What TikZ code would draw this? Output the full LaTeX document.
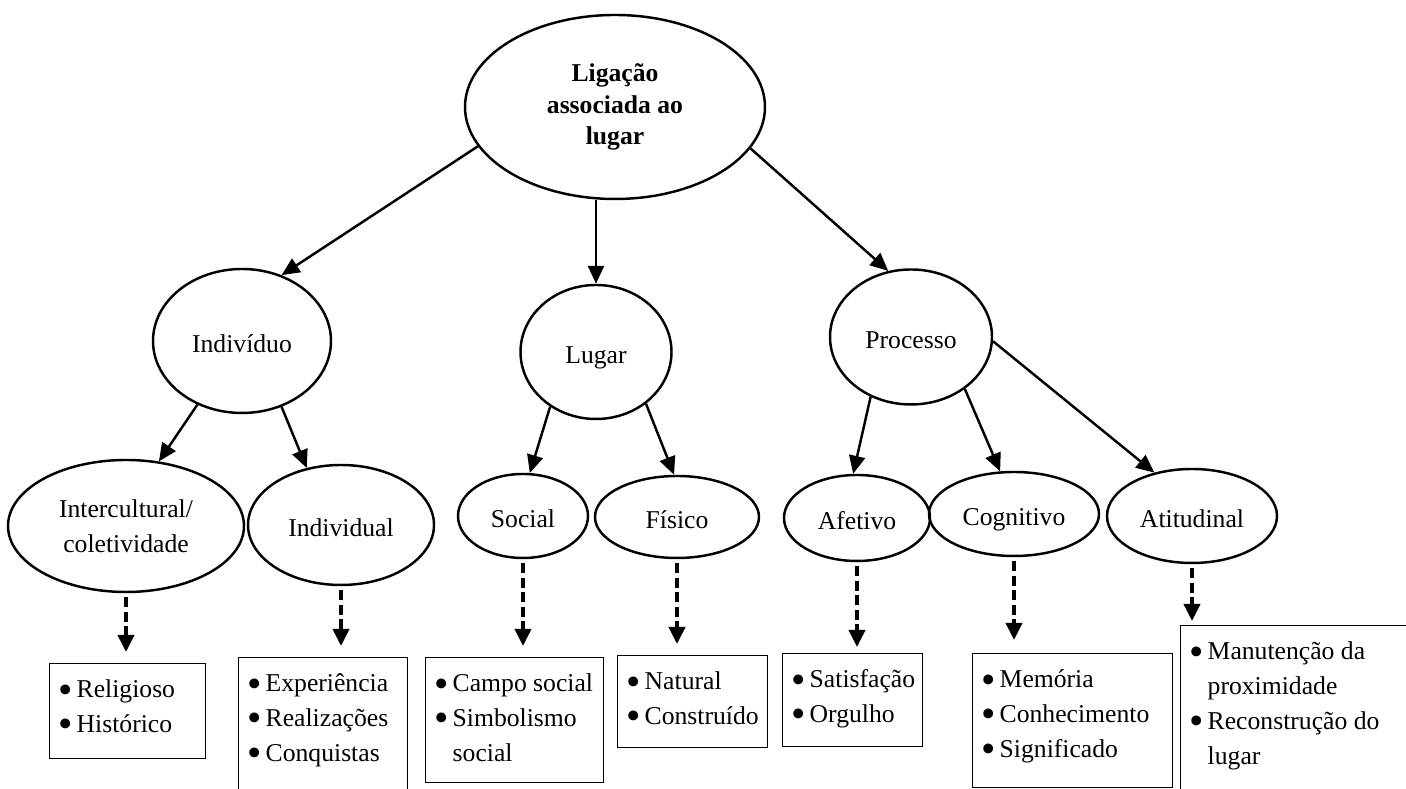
\documentclass[tikz,border=0pt]{standalone}
\usepackage{fontspec}
\setmainfont{Liberation Serif}
\usepackage{graphicx}
\usepackage{tikz}
\usetikzlibrary{arrows.meta,shapes.geometric}
\tikzset{
  every picture/.style={draw=black, text=black},
  oval/.style={ellipse, draw, line width=0.7pt, inner sep=0pt, align=center},
  oneline/.style={text height=0.66em, text depth=0.02em},
  listbox/.style={rectangle, draw, line width=0.4pt, anchor=north west,
    inner xsep=0.09cm, inner ysep=0pt, text height=0.34cm, align=left},
  arr/.style={-{Triangle[length=0.18cm,width=0.16cm]}, line width=0.7pt},
  dasharr/.style={-{Triangle[length=0.17cm,width=0.16cm]}, line width=1.05pt,
    dash pattern=on 0.1cm off 0.045cm, shorten <=0.04cm, shorten >=0.11cm},
}
\newcommand{\nsp}{\spaceskip=0pt\xspaceskip=0pt\relax}
\newcommand{\bul}{\makebox[0.18cm][l]{\raisebox{-0.055cm}[0pt][0pt]{\scalebox{1.6}{\textbullet}}}}
\newcommand{\bitem}[1]{\mbox{\nsp\bul#1}}
\newcommand{\bcont}[1]{\mbox{\nsp\hspace*{0.18cm}#1}}

\begin{document}
\begin{tikzpicture}[every node/.style={font=\fontsize{7.3}{9.9}\selectfont}]
\useasboundingbox (0,0) rectangle (14.06,7.89);

%% Root
\node[oval, minimum width=3.0cm, minimum height=1.84cm,
  font=\fontsize{7.3}{8.9}\selectfont\bfseries] (lig) at (6.15,6.82)
  {Ligação\\\mbox{\nsp associada ao}\\lugar};

%% Level 1
\node[oval, oneline, minimum width=1.78cm, minimum height=1.44cm] (indiv) at (2.42,4.48) {Indivíduo};
\node[oval, oneline, minimum width=1.51cm, minimum height=1.34cm] (lugar) at (5.96,4.37) {Lugar};
\node[oval, oneline, minimum width=1.62cm, minimum height=1.35cm] (proc) at (9.11,4.52) {Processo};

\draw[arr] (lig.196) -- (indiv.59);
\draw[arr] (lig.south -| lugar.north) -- (lugar.north);
\draw[arr] (lig.343) -- (proc.109);

%% Level 2
\node[oval, minimum width=2.36cm, minimum height=1.32cm] (inter) at (1.26,2.63) {Intercultural/\\coletividade};
\node[oval, oneline, minimum width=1.86cm, minimum height=1.20cm] (individ) at (3.41,2.64) {Individual};
\node[oval, oneline, minimum width=1.30cm, minimum height=0.84cm] (social) at (5.23,2.73) {Social};
\node[oval, oneline, minimum width=1.64cm, minimum height=0.82cm] (fisico) at (6.77,2.72) {Físico};
\node[oval, oneline, minimum width=1.46cm, minimum height=0.86cm] (afet) at (8.57,2.71) {Afetivo};
\node[oval, oneline, minimum width=1.70cm, minimum height=0.84cm] (cogn) at (10.14,2.75) {Cognitivo};
\node[oval, oneline, minimum width=1.70cm, minimum height=0.94cm] (atit) at (11.92,2.73) {Atitudinal};

\draw[arr] (indiv.235) -- (inter.63);
\draw[arr] (indiv.301) -- (individ.121);
\draw[arr] (lugar.230) -- (social.81);
\draw[arr] (lugar.314) -- (fisico.94);
\draw[arr] (proc.236) -- (afet.95);
\draw[arr] (proc.316) -- (cogn.108);
\draw[arr] (proc.357) -- (atit.131);

%% Lists
\node[listbox, text width=1.38cm, text depth=0.61cm] (relig) at (0.49,1.26)
  {\bitem{Religioso}\\\bitem{Histórico}};
\node[listbox, text width=1.51cm, text depth=1.40cm] (exper) at (2.38,1.32)
  {\bitem{Experiência}\\\bitem{Realizações}\\\bitem{Conquistas}};
\node[listbox, text width=1.60cm, text depth=0.91cm] (campo) at (4.25,1.32)
  {\bitem{Campo social}\\\bitem{Simbolismo}\\\bcont{social}};
\node[listbox, text width=1.32cm, text depth=0.58cm] (natur) at (6.17,1.34)
  {\bitem{Natural}\\\bitem{Construído}};
\node[listbox, text width=1.22cm, text depth=0.59cm] (satisf) at (7.82,1.36)
  {\bitem{Satisfação}\\\bitem{Orgulho}};
\node[listbox, text width=1.82cm, text depth=1.00cm] (memor) at (9.72,1.36)
  {\bitem{Memória}\\\bitem{Conhecimento}\\\bitem{Significado}};
\node[listbox, text width=2.42cm, text depth=1.70cm] (manut) at (11.80,1.64)
  {\bitem{Manutenção da}\\\bcont{proximidade}\\\bitem{Reconstrução do}\\\bcont{lugar}};

\draw[dasharr] (inter.south) -- (inter.south |- relig.north);
\draw[dasharr] (individ.south) -- (individ.south |- exper.north);
\draw[dasharr] (social.south) -- (social.south |- campo.north);
\draw[dasharr] (fisico.south) -- (fisico.south |- natur.north);
\draw[dasharr, shorten >=0.06cm] (afet.south) -- (afet.south |- satisf.north);
\draw[dasharr, shorten >=0.13cm] (cogn.south) -- (cogn.south |- memor.north);
\draw[dasharr, shorten >=0.04cm] (atit.south) -- (atit.south |- manut.north);

\end{tikzpicture}
\end{document}
